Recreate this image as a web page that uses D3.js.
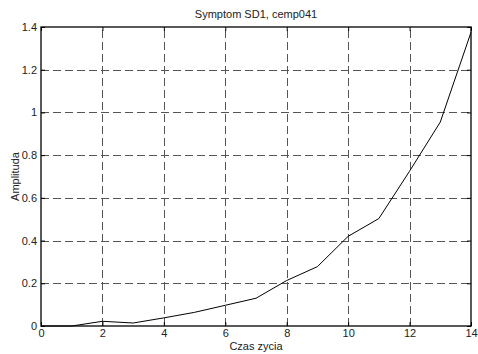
<!DOCTYPE html>
<html>
<head>
<meta charset="utf-8">
<script src="https://cdn.jsdelivr.net/npm/d3@7"></script>
<style>
  body { margin: 0; background: #fff; }
  text { font-family: "Liberation Sans", Arial, sans-serif; font-size: 11px; fill: #222; }
</style>
</head>
<body>
<div id="chart"></div>
<script>
// lifetime (x) and amplitude (y)
var czas = [0, 1, 2, 3, 4, 5, 6, 7, 8, 9, 10, 11, 12, 13, 14];
var amplituda = [0, 0, 0.022, 0.014, 0.038, 0.064, 0.097, 0.13, 0.213, 0.278, 0.42, 0.503, 0.725, 0.955, 1.375];
var xTicks = [0, 2, 4, 6, 8, 10, 12, 14];
var yTicks = [0, 0.2, 0.4, 0.6, 0.8, 1, 1.2, 1.4];

var width = 478, height = 354;
var margin = {top: 27, right: 7, bottom: 28, left: 41};

var svg = d3.select("#chart").append("svg")
  .attr("width", width)
  .attr("height", height);

var x = d3.scaleLinear().domain([0, 14]).range([margin.left, width - margin.right]);
var y = d3.scaleLinear().domain([0, 1.4]).range([height - margin.bottom, margin.top]);

// dashed grid
var grid = svg.append("g").attr("stroke", "#555").attr("stroke-width", 1).attr("stroke-dasharray", "8,4");
grid.selectAll(".gx").data(xTicks.slice(1, -1)).enter().append("line")
  .attr("x1", function(d) { return Math.round(x(d)) + 0.5; })
  .attr("x2", function(d) { return Math.round(x(d)) + 0.5; })
  .attr("y1", y(0)).attr("y2", y(1.4));
grid.selectAll(".gy").data(yTicks.slice(1, -1)).enter().append("line")
  .attr("y1", function(d) { return Math.round(y(d)) + 0.5; })
  .attr("y2", function(d) { return Math.round(y(d)) + 0.5; })
  .attr("x1", x(0)).attr("x2", x(14));

// axes, ticks pointing inwards like matlab
var fmt = function(d) { return String(d); };
svg.append("g")
  .attr("transform", "translate(0," + y(0) + ")")
  .call(d3.axisBottom(x).tickValues(xTicks).tickFormat(fmt).tickSizeInner(-4).tickSizeOuter(0).tickPadding(3))
  .call(function(g) { g.select(".domain").remove(); });
svg.append("g")
  .attr("transform", "translate(" + x(0) + ",0)")
  .call(d3.axisLeft(y).tickValues(yTicks).tickFormat(fmt).tickSizeInner(-4).tickSizeOuter(0).tickPadding(4))
  .call(function(g) { g.select(".domain").remove(); });
svg.append("g")
  .attr("transform", "translate(0," + y(1.4) + ")")
  .call(d3.axisTop(x).tickValues(xTicks).tickFormat("").tickSizeInner(-4).tickSizeOuter(0))
  .call(function(g) { g.select(".domain").remove(); });
svg.append("g")
  .attr("transform", "translate(" + x(14) + ",0)")
  .call(d3.axisRight(y).tickValues(yTicks).tickFormat("").tickSizeInner(-4).tickSizeOuter(0))
  .call(function(g) { g.select(".domain").remove(); });
svg.selectAll(".tick text").style("font-family", "'Liberation Sans', Arial, sans-serif").style("font-size", "11px").attr("fill", "#222");

// box
svg.append("rect")
  .attr("x", x(0)).attr("y", y(1.4))
  .attr("width", x(14) - x(0)).attr("height", y(0) - y(1.4))
  .attr("fill", "none").attr("stroke", "#000").attr("stroke-width", 1.3);

// data line
var line = d3.line()
  .x(function(d, i) { return x(czas[i]); })
  .y(function(d) { return y(d); });
svg.append("path")
  .datum(amplituda)
  .attr("d", line)
  .attr("fill", "none")
  .attr("stroke", "#000")
  .attr("stroke-width", 1);

// labels
svg.append("text")
  .attr("x", (x(0) + x(14)) / 2).attr("y", 18)
  .attr("text-anchor", "middle")
  .text("Symptom SD1, cemp041");
svg.append("text")
  .attr("x", (x(0) + x(14)) / 2).attr("y", 350)
  .attr("text-anchor", "middle")
  .text("Czas zycia");
svg.append("text")
  .attr("transform", "translate(19," + (y(0) + y(1.4)) / 2 + ") rotate(-90)")
  .attr("text-anchor", "middle")
  .text("Amplituda");
</script>
</body>
</html>
